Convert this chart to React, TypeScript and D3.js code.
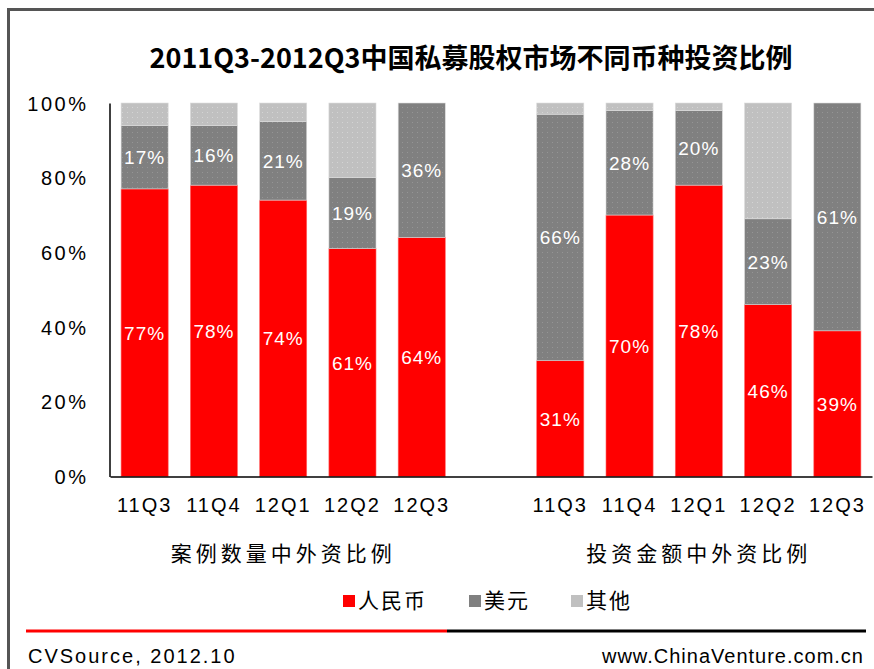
import React, { useEffect, useRef } from 'react';
import * as d3 from 'd3';

const quarters = ['11Q3', '11Q4', '12Q1', '12Q2', '12Q3'];
const groupTitles = ['案例数量中外资比例', '投资金额中外资比例'];
const seriesNames = ['人民币', '美元', '其他'];
const seriesColors = ['#ff0000', '#808080', '#c0c0c0'];

// 案例数量 (deal count) shares
const countRmb = [77, 78, 74, 61, 64];
const countUsd = [17, 16, 21, 19, 36];
const countOther = [6, 6, 5, 20, 0];

// 投资金额 (amount) shares
const amountRmb = [31, 70, 78, 46, 39];
const amountUsd = [66, 28, 20, 23, 61];
const amountOther = [3, 2, 2, 31, 0];

const yTicks = [0, 0.2, 0.4, 0.6, 0.8, 1];

const W = 874;
const H = 669;
const LATIN = 'Arial, "Liberation Sans", sans-serif';
const CJK = '"Noto Sans CJK SC", "Noto Sans", sans-serif';

const App = () => {
    const ref = useRef<SVGSVGElement>(null);

    useEffect(() => {
        if (!ref.current) return;
        const svg = d3.select(ref.current);
        svg.selectAll('*').remove();

        // slots: 5 left bars, one empty slot, 5 right bars
        const slots = [
            ...quarters.map(q => 'L-' + q),
            'gap',
            ...quarters.map(q => 'R-' + q)
        ];

        const rows = [
            ...quarters.map((q, i) => ({ key: 'L-' + q, rmb: countRmb[i], usd: countUsd[i], other: countOther[i] })),
            ...quarters.map((q, i) => ({ key: 'R-' + q, rmb: amountRmb[i], usd: amountUsd[i], other: amountOther[i] }))
        ];

        const x = d3.scaleBand()
            .domain(slots)
            .range([110, 872])
            .paddingInner(0.32)
            .paddingOuter(0.16);

        const y = d3.scaleLinear()
            .domain([0, 100])
            .range([476.5, 103]);

        const stack = d3.stack().keys(['rmb', 'usd', 'other']);
        const layers = stack(rows as any);

        // dotted textures
        const defs = svg.append('defs');
        const patterns = [
            { id: 'p0', base: seriesColors[0], dot: null },
            { id: 'p1', base: seriesColors[1], dot: '#959595' },
            { id: 'p2', base: seriesColors[2], dot: '#d4d4d4' }
        ];
        patterns.forEach(p => {
            const pat = defs.append('pattern')
                .attr('id', p.id)
                .attr('width', 5)
                .attr('height', 5)
                .attr('patternUnits', 'userSpaceOnUse');
            pat.append('rect').attr('width', 5).attr('height', 5).attr('fill', p.base);
            if (p.dot) pat.append('rect').attr('x', 2).attr('y', 2).attr('width', 1).attr('height', 1).attr('fill', p.dot);
        });

        // outer frame
        svg.append('path')
            .attr('d', `M8.5,${H} L8.5,9.5 L${W},9.5`)
            .attr('fill', 'none')
            .attr('stroke', '#555')
            .attr('stroke-width', 3);

        // title
        svg.append('text')
            .attr('x', 471)
            .attr('y', 68)
            .attr('text-anchor', 'middle')
            .attr('font-family', CJK)
            .attr('font-weight', 'bold')
            .attr('font-size', 27)
            .attr('fill', '#000')
            .text('2011Q3-2012Q3中国私募股权市场不同币种投资比例');

        // bars
        layers.forEach((layer, li) => {
            svg.append('g')
                .selectAll('rect')
                .data(layer)
                .join('rect')
                .attr('x', d => x((d.data as any).key)!)
                .attr('width', x.bandwidth())
                .attr('y', d => y(d[1]))
                .attr('height', d => y(d[0]) - y(d[1]))
                .attr('fill', `url(#p${li})`)
                .attr('stroke', li === 0 ? '#ff6a6a' : '#dcdcdc')
                .attr('stroke-width', 0.6);
        });

        // value labels (RMB and USD only)
        layers.slice(0, 2).forEach(layer => {
            svg.append('g')
                .selectAll('text')
                .data(layer.filter(d => d[1] - d[0] > 0))
                .join('text')
                .attr('x', d => x((d.data as any).key)! + x.bandwidth() / 2)
                .attr('y', d => y((d[0] + d[1]) / 2) + 7)
                .attr('text-anchor', 'middle')
                .attr('font-family', LATIN)
                .attr('font-size', 19)
                .attr('letter-spacing', 1)
                .attr('fill', '#fff')
                .text(d => `${Math.round(d[1] - d[0])}%`);
        });

        // y axis
        const yAxis = svg.append('g')
            .attr('transform', 'translate(109.5,0)')
            .call(d3.axisLeft(d3.scaleLinear().domain([0, 1]).range([476.5, 103]))
                .tickValues(yTicks)
                .tickFormat(d3.format('.0%'))
                .tickSize(0)
                .tickSizeOuter(0)
                .tickPadding(21));
        yAxis.select('.domain').attr('stroke', '#000').attr('stroke-width', 1.5);
        yAxis.selectAll('text')
            .attr('font-family', LATIN)
            .attr('font-size', 20)
            .attr('letter-spacing', 2.5)
            .attr('fill', '#000')
            .attr('dy', '0.35em');

        // x axis
        const xAxis = svg.append('g')
            .attr('transform', 'translate(0,476.5)')
            .call(d3.axisBottom(x)
                .tickValues(slots.filter(s => s !== 'gap'))
                .tickFormat(s => s.slice(2))
                .tickSize(0)
                .tickSizeOuter(0)
                .tickPadding(21));
        xAxis.select('.domain').attr('stroke', '#000').attr('stroke-width', 1.5);
        xAxis.selectAll('text')
            .attr('font-family', LATIN)
            .attr('font-size', 20)
            .attr('letter-spacing', 2)
            .attr('fill', '#000');

        // group titles
        const groupCenters = [
            (x('L-11Q3')! + x('L-12Q3')! + x.bandwidth()) / 2,
            (x('R-11Q3')! + x('R-12Q3')! + x.bandwidth()) / 2
        ];
        svg.append('g')
            .selectAll('text')
            .data(groupTitles)
            .join('text')
            .attr('x', (d, i) => groupCenters[i])
            .attr('y', 561)
            .attr('text-anchor', 'middle')
            .attr('font-family', CJK)
            .attr('font-size', 21)
            .attr('letter-spacing', 4)
            .attr('fill', '#000')
            .text(d => d);

        // legend
        const legendX = [343, 469, 571];
        const legend = svg.append('g')
            .selectAll('g')
            .data(seriesNames)
            .join('g')
            .attr('transform', (d, i) => `translate(${legendX[i]},595)`);
        legend.append('rect')
            .attr('width', 12)
            .attr('height', 12)
            .attr('fill', (d, i) => seriesColors[i]);
        legend.append('text')
            .attr('x', 15)
            .attr('y', 13)
            .attr('font-family', CJK)
            .attr('font-size', 21)
            .attr('letter-spacing', 2)
            .attr('fill', '#000')
            .text(d => d);

        // footer rule
        svg.append('line')
            .attr('x1', 26).attr('x2', 447)
            .attr('y1', 631).attr('y2', 631)
            .attr('stroke', '#ff0000').attr('stroke-width', 3);
        svg.append('line')
            .attr('x1', 447).attr('x2', 866)
            .attr('y1', 631).attr('y2', 631)
            .attr('stroke', '#000').attr('stroke-width', 3);

        svg.append('text')
            .attr('x', 28)
            .attr('y', 663)
            .attr('font-family', LATIN)
            .attr('font-size', 20)
            .attr('letter-spacing', 2)
            .attr('fill', '#000')
            .text('CVSource, 2012.10');
        svg.append('text')
            .attr('x', 864)
            .attr('y', 663)
            .attr('text-anchor', 'end')
            .attr('font-family', LATIN)
            .attr('font-size', 20)
            .attr('letter-spacing', 1)
            .attr('fill', '#000')
            .text('www.ChinaVenture.com.cn');
    }, []);

    return (
        <svg
            ref={ref}
            width={W}
            height={H}
            style={{ position: 'absolute', left: 0, top: 0, background: '#fff' }}
        />
    );
};

export default App;
